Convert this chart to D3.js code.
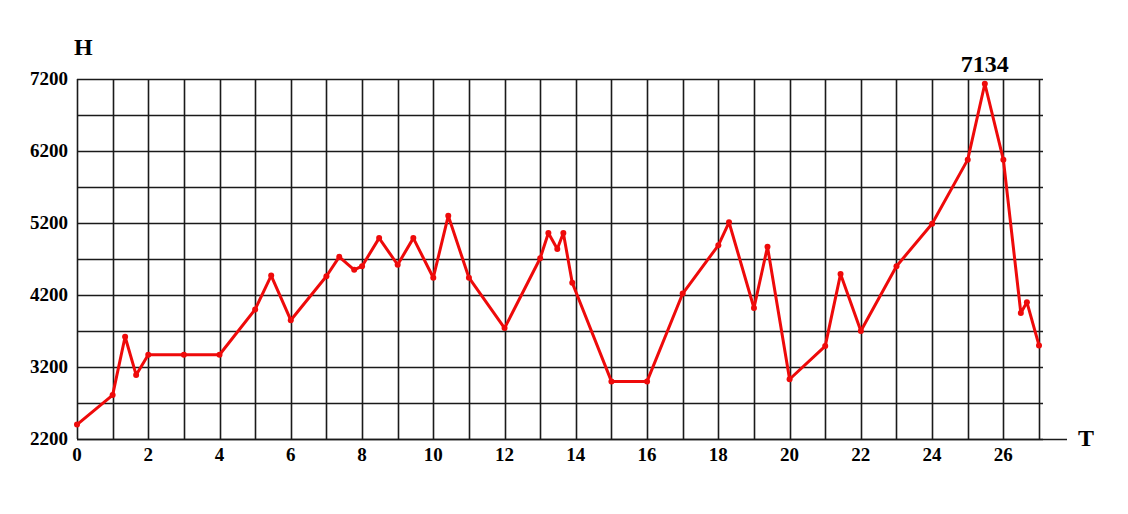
<!DOCTYPE html>
<html>
<head>
<meta charset="utf-8">
<script src="https://cdn.jsdelivr.net/npm/d3@7"></script>
<style>
html,body{margin:0;padding:0;background:#fff;}
svg{display:block;}
text{font-family:"Liberation Serif","Times New Roman",serif;font-weight:bold;fill:#000;}
</style>
</head>
<body>
<svg id="chart" width="1128" height="514"></svg>
<script>
const tValues = [0, 1, 1.35, 1.66, 2, 3, 4, 5, 5.45, 6, 7, 7.36, 7.78, 8, 8.48, 9, 9.44, 10, 10.42, 11, 12, 13, 13.23, 13.48, 13.65, 13.9, 15, 16, 17, 18, 18.3, 19, 19.38, 20, 21, 21.43, 22, 23, 24, 25, 25.48, 26, 26.49, 26.66, 27];
const hValues = [2400, 2810, 3620, 3090, 3370, 3370, 3370, 4000, 4470, 3850, 4460, 4730, 4550, 4600, 4990, 4620, 4990, 4440, 5300, 4440, 3740, 4710, 5060, 4840, 5060, 4370, 3000, 3000, 4220, 4890, 5210, 4020, 4870, 3030, 3490, 4490, 3700, 4600, 5190, 6080, 7134, 6080, 3950, 4100, 3500];
const xTickLabels = [0, 2, 4, 6, 8, 10, 12, 14, 16, 18, 20, 22, 24, 26];
const yTickLabels = [2200, 3200, 4200, 5200, 6200, 7200];
const peakLabel = "7134";

const svg = d3.select("#chart");
const x = d3.scaleLinear().domain([0, 27]).range([77, 1039]);
const y = d3.scaleLinear().domain([2200, 7200]).range([439, 79]);

// grid
const g = svg.append("g");
const vLines = d3.range(0, 28, 1);
const hLines = d3.range(2200, 7201, 500);
g.selectAll("line.v").data(vLines).join("line")
  .attr("x1", d => Math.round(x(d)) + 0.5).attr("x2", d => Math.round(x(d)) + 0.5)
  .attr("y1", y(7200)).attr("y2", y(2200))
  .attr("stroke", "#1a1a1a").attr("stroke-width", 1.6);
g.selectAll("line.h").data(hLines).join("line")
  .attr("x1", x(0)).attr("x2", x(27) + 4)
  .attr("y1", d => Math.round(y(d)) + 0.5).attr("y2", d => Math.round(y(d)) + 0.5)
  .attr("stroke", "#1a1a1a").attr("stroke-width", 1.6);
// extended x axis line
g.append("line").attr("x1", x(0)).attr("x2", 1067)
  .attr("y1", Math.round(y(2200)) + 0.5).attr("y2", Math.round(y(2200)) + 0.5)
  .attr("stroke", "#1a1a1a").attr("stroke-width", 1.6);

// axes labels
svg.selectAll("text.yt").data(yTickLabels).join("text")
  .attr("x", 68).attr("y", d => y(d) + 6)
  .attr("text-anchor", "end").style("font-size", "19px")
  .text(d => d);
svg.selectAll("text.xt").data(xTickLabels).join("text")
  .attr("x", d => x(d)).attr("y", 461)
  .attr("text-anchor", "middle").style("font-size", "19px")
  .text(d => d);
svg.append("text").attr("x", 74).attr("y", 55).style("font-size", "24px").text("H");
svg.append("text").attr("x", 1078).attr("y", 446).style("font-size", "24px").text("T");
svg.append("text").attr("x", x(25.48)).attr("y", 72).attr("text-anchor", "middle")
  .style("font-size", "24px").text(peakLabel);

// line
const pts = tValues.map((t, i) => [t, hValues[i]]);
const line = d3.line().x(d => x(d[0])).y(d => y(d[1]));
svg.append("path").datum(pts).attr("d", line)
  .attr("fill", "none").attr("stroke", "#ee0a0a").attr("stroke-width", 3)
  .attr("stroke-linejoin", "round");
svg.selectAll("circle").data(pts).join("circle")
  .attr("cx", d => x(d[0])).attr("cy", d => y(d[1])).attr("r", 3)
  .attr("fill", "#ee0a0a");
</script>
</body>
</html>
